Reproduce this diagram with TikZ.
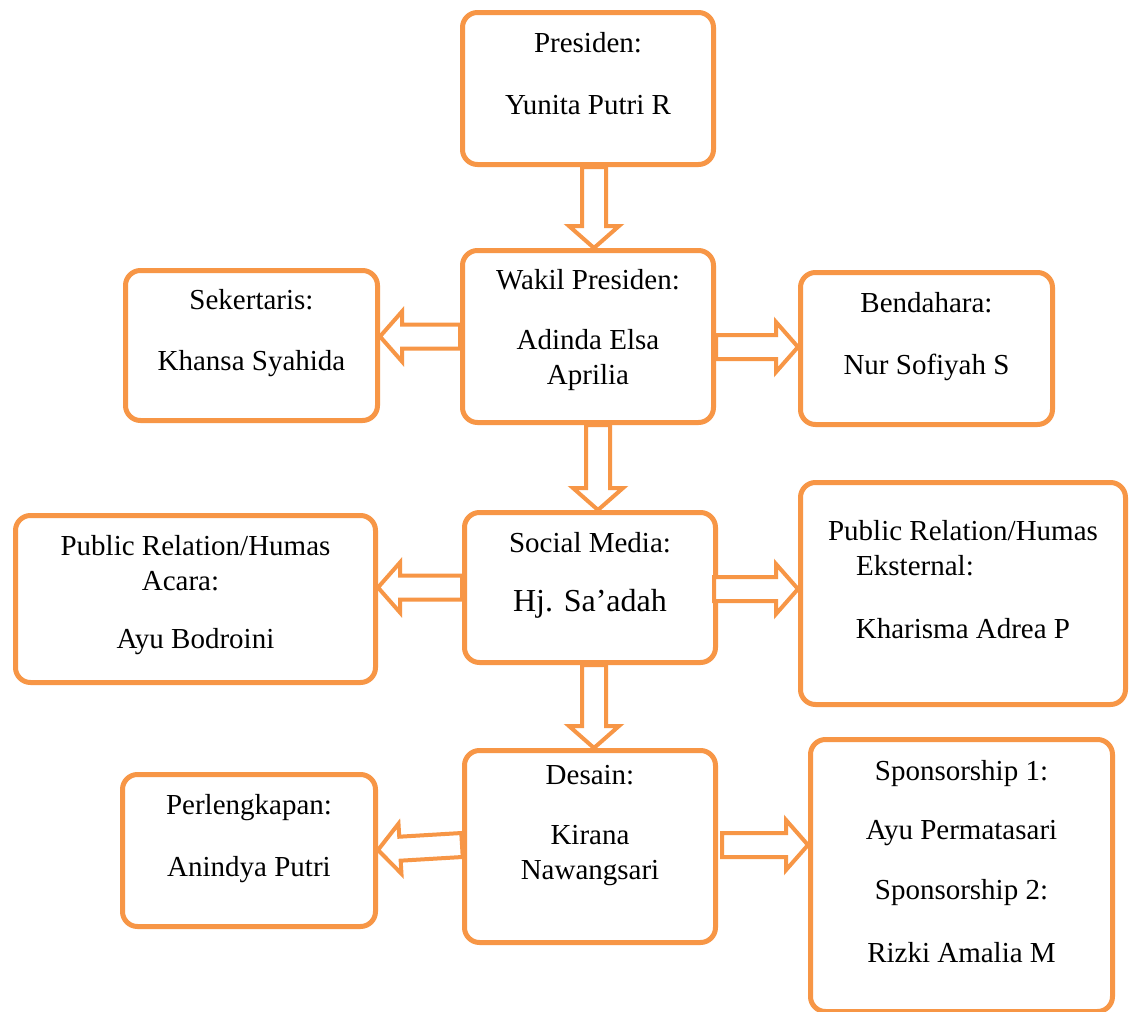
\documentclass[tikz,border=0pt]{standalone}
\usepackage{fontspec}
\setmainfont{Liberation Serif}
\usetikzlibrary{calc}
\definecolor{orC}{RGB}{247,150,70}
\newcommand{\bt}[2][12pt]{\raisebox{#1}[\height][\depth]{\begin{tabular}{@{}c@{}}#2\end{tabular}}}
\tikzset{
  box/.style={draw=orC, line width=5pt, rounded corners=15pt, inner sep=0pt},
  barrow/.style={draw=orC, line width=4pt, fill=white, line join=miter, miter limit=10,
    to path={let \p1=(\tikztostart), \p2=(\tikztotarget),
      \n1={atan2(\y2-\y1,\x2-\x1)}, \n2={veclen(\x2-\x1,\y2-\y1)} in
      ($(\p1)+(\n1+90:12pt)$) -- ($(\p1)+(\n1:\n2*1pt-22pt)+(\n1+90:12pt)$)
      -- ($(\p1)+(\n1:\n2*1pt-22pt)+(\n1+90:25pt)$) -- (\p2)
      -- ($(\p1)+(\n1:\n2*1pt-22pt)+(\n1-90:25pt)$)
      -- ($(\p1)+(\n1:\n2*1pt-22pt)+(\n1-90:12pt)$)
      -- ($(\p1)+(\n1-90:12pt)$) -- cycle}}
}
\begin{document}
\begin{tikzpicture}[x=1pt,y=-1pt,font=\fontsize{29}{35}\selectfont]
\useasboundingbox (0,0) rectangle (1136,1012);
\fill[white] (0,0) rectangle (1136,1012);

\node[box, minimum width=251pt, minimum height=152pt] (pres) at (588,88.5)
  {\bt{Presiden:\\[27pt] Yunita Putri R}};
\node[box, minimum width=251pt, minimum height=172pt] (wakil) at (588,336.5)
  {\bt[7pt]{Wakil Presiden:\\[25pt] Adinda Elsa\\ Aprilia}};
\node[box, minimum width=252pt, minimum height=150pt] (sek) at (251.5,345.5)
  {\bt[13pt]{Sekertaris:\\[26pt] Khansa Syahida}};
\node[box, minimum width=252pt, minimum height=152pt] (bend) at (926.5,348.5)
  {\bt{Bendahara:\\[27pt] Nur Sofiyah S}};
\node[box, minimum width=360pt, minimum height=167pt] (pra) at (195.5,599)
  {\bt[4pt]{Public Relation/Humas\\ Acara:\hspace*{30pt}\\[23pt] Ayu Bodroini}};
\node[box, minimum width=251pt, minimum height=150pt] (soc) at (590,587.5)
  {\bt[13pt]{Social Media:\\[24pt] {\fontsize{32}{35}\selectfont Hj. Sa’adah}}};
\node[box, minimum width=325pt, minimum height=222pt] (pre) at (963,593.5)
  {\bt[11pt]{Public Relation/Humas\\ Eksternal:\hspace*{96pt}\\[28pt] Kharisma Adrea P}};
\node[box, minimum width=253pt, minimum height=152pt] (perl) at (249,850.5)
  {\bt{Perlengkapan:\\[27pt] Anindya Putri}};
\node[box, minimum width=251pt, minimum height=192pt] (des) at (590,846.5)
  {\bt[22pt]{Desain:\\[25pt] Kirana\\ Nawangsari}};
\node[box, minimum width=302pt, minimum height=272pt] (spon) at (961.5,875.5)
  {\bt[11.5pt]{Sponsorship 1:\\[24pt] Ayu Permatasari\\[25pt] Sponsorship 2:\\[28pt] Rizki Amalia M}};

\draw[barrow] ($(pres.south)+(6,0)$) to ($(wakil.north)+(6,0)$);
\draw[barrow] (wakil.west) to (wakil.west -| sek.east);
\draw[barrow] ($(wakil.east)+(0,10.5)$) to ($(wakil.east -| bend.west)+(0,10.5)$);
\draw[barrow] ($(wakil.south)+(10,0)$) to ($(wakil.south |- soc.north)+(10,0)$);
\draw[barrow] (soc.west) to (soc.west -| pra.east);
\draw[barrow] ($(soc.east)+(-4,1.5)$) to ($(soc.east -| pre.west)+(0,1.5)$);
\draw[barrow] ($(soc.south)+(4,0)$) to ($(soc.south |- des.north)+(4,0)$);
\draw[barrow] ($(des.west)+(0,-1.5)$) to ($(des.west -| perl.east)+(0,3.5)$);
\draw[barrow] ($(des.east)+(4,-1.5)$) to ($(des.east -| spon.west)+(0,-1.5)$);
\end{tikzpicture}
\end{document}
